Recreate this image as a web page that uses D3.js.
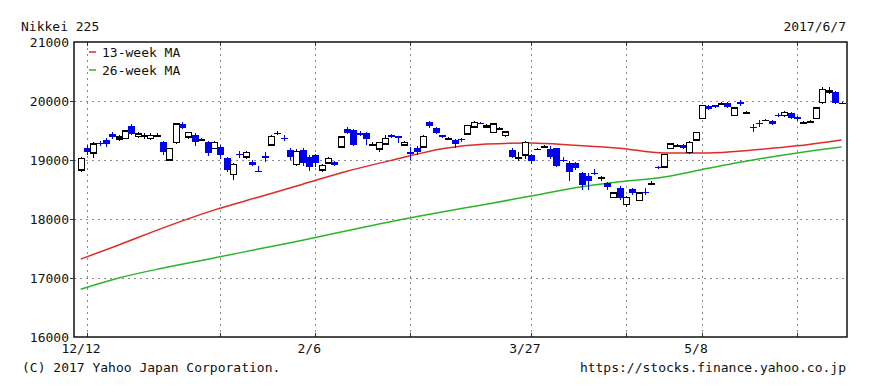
<!DOCTYPE html>
<html>
<head>
<meta charset="utf-8">
<script src="https://cdn.jsdelivr.net/npm/d3@7"></script>
<style>
  body { margin: 0; background: #fff; }
  text { font-family: "DejaVu Sans Mono", monospace; font-size: 13px; fill: #111; }
</style>
</head>
<body>
<script>
// daily candles, 12/9/2016 .. 6/7/2017 (day index -1 .. 119, 12/12 = 0)
var opens = [18830,19200,19120,19290,19340,19440,19355,19370,19580,19405,19420,19370,19420,19300,19000,19290,19610,19390,19420,19350,
  19300,19200,19220,19030,18750,19110,19050,18970,18820,19060,19255,19460,19380,19170,18930,19170,19050,19085,18830,18950,
  18970,19220,19525,19510,19460,19460,19270,19185,19270,19420,19405,19255,19135,19200,19220,19640,19540,19420,19370,19340,
  19360,19440,19560,19635,19560,19470,19540,19420,19170,19050,19085,19085,19190,19230,19190,19200,19005,18950,18950,18780,
  18730,18785,18710,18610,18370,18525,18240,18510,18320,18465,18610,18885,18880,19200,19250,19250,19130,19340,19710,19920,
  19930,19960,19970,19760,19975,19810,19565,19635,19680,19660,19765,19750,19800,19730,19640,19660,19700,19970,20140,20150,19970];
var closes = [19020,19130,19270,19280,19270,19390,19390,19490,19440,19440,19420,19420,19420,19130,19190,19610,19540,19460,19300,19350,
  19120,19290,19080,18830,18920,19100,19130,18920,18810,19050,19405,19460,19370,19050,19150,18950,18880,18950,18900,19020,
  18920,19390,19460,19255,19420,19355,19270,19290,19370,19390,19400,19300,19130,19130,19400,19575,19460,19390,19370,19270,
  19355,19590,19640,19630,19590,19610,19540,19475,19050,19050,19290,18980,19190,19230,19050,18900,19000,18800,18860,18575,
  18640,18780,18710,18540,18440,18355,18370,18440,18440,18460,18610,18880,19100,19270,19250,19200,19300,19460,19920,19860,
  19900,19960,19900,19880,19970,19810,19560,19630,19680,19610,19760,19810,19710,19690,19640,19660,19880,20190,20170,19970,19970];
var highs = [19050,19250,19300,19320,19370,19475,19420,19510,19610,19470,19450,19450,19450,19320,19200,19620,19640,19480,19450,19370,
  19330,19320,19250,19050,18950,19160,19160,19000,18900,19140,19420,19500,19420,19200,19180,19200,19080,19100,18930,19050,
  18990,19400,19560,19530,19500,19470,19300,19310,19420,19440,19410,19330,19220,19240,19420,19660,19560,19430,19390,19350,
  19380,19600,19660,19650,19610,19620,19560,19490,19200,19130,19320,19100,19210,19250,19230,19210,19050,18980,18960,18790,
  18780,18840,18730,18630,18460,18560,18390,18530,18460,18520,18640,18900,19110,19280,19270,19270,19320,19480,19940,19940,
  19940,19990,19980,19900,20010,19830,19610,19680,19700,19680,19790,19830,19820,19740,19660,19680,19900,20230,20230,20170,19990];
var lows = [18800,19080,19030,19240,19220,19360,19320,19350,19420,19370,19360,19340,19400,19080,18990,19270,19520,19360,19240,19320,
  19060,19180,19020,18800,18660,19040,19020,18900,18800,18970,19240,19420,19320,19000,18900,18900,18820,18880,18800,18930,
  18890,19200,19440,19240,19400,19260,19240,19130,19250,19370,19290,19230,19000,19090,19200,19550,19440,19370,19350,19200,
  19300,19420,19540,19610,19550,19450,19520,19390,19030,18980,19020,18940,19170,19210,19020,18880,18960,18640,18830,18500,
  18500,18740,18640,18500,18360,18320,18200,18400,18300,18400,18570,18850,18860,19190,19230,19190,19110,19330,19700,19850,
  19880,19930,19880,19740,19920,19790,19480,19560,19660,19600,19730,19730,19690,19660,19620,19630,19690,19950,20120,19950,19950];

// moving averages, sampled at these day indices
var maDays = [-1,5,12,20,27,34,41,49,56,63,70,77,84,91,98,105,112,119];
var ma13 = [17320,17560,17850,18150,18370,18590,18810,19020,19190,19270,19290,19250,19200,19120,19120,19170,19240,19340];
var ma26 = [16810,17000,17170,17340,17490,17640,17800,17980,18120,18250,18390,18530,18630,18710,18860,19000,19120,19220];

var gridDays = [0,21,36,51,70,85,97,112];
var dayLabels = {0:"12/12", 36:"2/6", 70:"3/27", 97:"5/8"};
var yTicks = [16000,17000,18000,19000,20000,21000];

var W = 870, H = 387;
var plotL = 74, plotR = 847, plotT = 42, plotB = 337;

var svg = d3.select("body").append("svg")
  .attr("width", W).attr("height", H);

var x = d3.scaleLinear().domain([-1, 119]).range([80.7, 841.5]);
var y = d3.scaleLinear().domain([16000, 21000]).range([plotB, plotT]);

// grid
svg.selectAll(".hgrid").data(yTicks.slice(1, -1)).enter().append("line")
  .attr("x1", plotL).attr("x2", plotR)
  .attr("y1", function(d){ return Math.round(y(d)) + 0.5; })
  .attr("y2", function(d){ return Math.round(y(d)) + 0.5; })
  .attr("stroke", "#8a8a8a").attr("stroke-dasharray", "2,4");
svg.selectAll(".vgrid").data(gridDays).enter().append("line")
  .attr("x1", function(d){ return Math.round(x(d)) + 0.5; })
  .attr("x2", function(d){ return Math.round(x(d)) + 0.5; })
  .attr("y1", plotT).attr("y2", plotB)
  .attr("stroke", "#8a8a8a").attr("stroke-dasharray", "2,4");
// small ticks top/bottom
svg.selectAll(".tt").data(gridDays).enter().append("line")
  .attr("x1", function(d){ return Math.round(x(d)) + 0.5; })
  .attr("x2", function(d){ return Math.round(x(d)) + 0.5; })
  .attr("y1", plotT).attr("y2", plotT + 4).attr("stroke", "#333");
svg.selectAll(".tb").data(gridDays).enter().append("line")
  .attr("x1", function(d){ return Math.round(x(d)) + 0.5; })
  .attr("x2", function(d){ return Math.round(x(d)) + 0.5; })
  .attr("y1", plotB - 4).attr("y2", plotB).attr("stroke", "#333");

// moving averages
var line = d3.line()
  .x(function(d){ return x(d[0]); })
  .y(function(d){ return y(d[1]); })
  .curve(d3.curveMonotoneX);
svg.append("path").datum(d3.zip(maDays, ma13))
  .attr("d", line).attr("fill", "none").attr("stroke", "#e02a2a").attr("stroke-width", 1.5);
svg.append("path").datum(d3.zip(maDays, ma26))
  .attr("d", line).attr("fill", "none").attr("stroke", "#2bb52b").attr("stroke-width", 1.5);

// candles
var candles = opens.map(function(o, i){
  return {day: i - 1, o: o, c: closes[i], h: highs[i], l: lows[i]};
});
var col = function(d){ return d.c < d.o ? "#0000f0" : "#000"; };
var g = svg.append("g").attr("shape-rendering", "crispEdges");
g.selectAll(".wick").data(candles).enter().append("line")
  .attr("x1", function(d){ return Math.round(x(d.day)) + 0.5; })
  .attr("x2", function(d){ return Math.round(x(d.day)) + 0.5; })
  .attr("y1", function(d){ return y(d.h); })
  .attr("y2", function(d){ return y(d.l); })
  .attr("stroke", col);
g.selectAll(".body").data(candles).enter().append("rect")
  .attr("x", function(d){ return d.c > d.o ? Math.round(x(d.day)) - 2.5 : Math.round(x(d.day)) - 3; })
  .attr("width", function(d){ return d.c > d.o ? 6 : 7; })
  .attr("y", function(d){ return y(Math.max(d.o, d.c)); })
  .attr("height", function(d){ return Math.max(1.5, y(Math.min(d.o, d.c)) - y(Math.max(d.o, d.c))); })
  .attr("fill", function(d){ return d.c > d.o ? "#fff" : col(d); })
  .attr("stroke", function(d){ return d.c > d.o ? "#000" : "none"; })
  .attr("stroke-width", 1.2);

// frame
svg.append("rect").attr("x", plotL).attr("y", plotT)
  .attr("width", plotR - plotL).attr("height", plotB - plotT)
  .attr("fill", "none").attr("stroke", "#111").attr("stroke-width", 1.5);

// y labels
svg.selectAll(".yl").data(yTicks).enter().append("text")
  .attr("x", 69).attr("y", function(d){ return y(d); })
  .attr("dy", "0.35em").attr("text-anchor", "end")
  .text(function(d){ return d; });
svg.selectAll(".ytk").data(yTicks.slice(1, -1)).enter().append("line")
  .attr("x1", plotL - 4).attr("x2", plotL)
  .attr("y1", function(d){ return Math.round(y(d)) + 0.5; })
  .attr("y2", function(d){ return Math.round(y(d)) + 0.5; })
  .attr("stroke", "#333");

// x labels
svg.selectAll(".xl").data(Object.keys(dayLabels)).enter().append("text")
  .attr("x", function(d){ return x(+d) - 6; }).attr("y", 353)
  .attr("text-anchor", "middle")
  .text(function(d){ return dayLabels[d]; });

// titles / legend
svg.append("text").attr("x", 21).attr("y", 31).text("Nikkei 225");
svg.append("text").attr("x", 846).attr("y", 31).attr("text-anchor", "end").text("2017/6/7");
svg.append("text").attr("x", 22).attr("y", 372).text("(C) 2017 Yahoo Japan Corporation.");
svg.append("text").attr("x", 846).attr("y", 372).attr("text-anchor", "end").text("https://stocks.finance.yahoo.co.jp");

var legend = [["13-week MA", "#e02a2a"], ["26-week MA", "#2bb52b"]];
legend.forEach(function(l, i){
  var ly = 52 + i * 18;
  svg.append("line").attr("x1", 89).attr("x2", 96).attr("y1", ly).attr("y2", ly)
    .attr("stroke", l[1]).attr("stroke-width", 1.5);
  svg.append("text").attr("x", 102).attr("y", ly).attr("dy", "0.35em").text(l[0]);
});
</script>
</body>
</html>
